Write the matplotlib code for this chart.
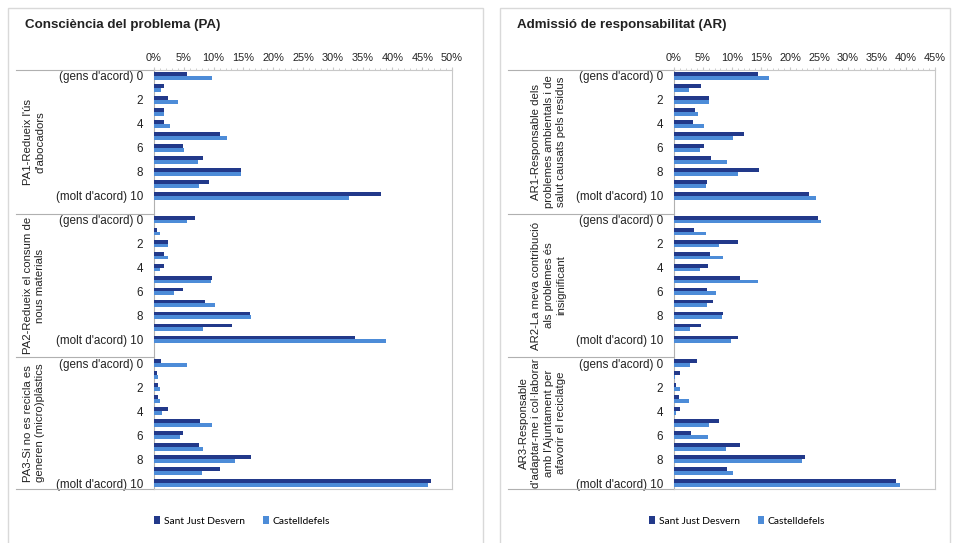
import matplotlib
matplotlib.use("Agg")
import matplotlib.pyplot as plt
import numpy as np
from matplotlib.transforms import blended_transform_factory
from matplotlib.patches import Rectangle, Patch

plt.rcParams['font.family'] = ['Liberation Sans', 'DejaVu Sans']

categories = ["(gens d'acord) 0", "", "2", "", "4", "", "6", "", "8", "", "(molt d'acord) 10"]
series_names = ["Sant Just Desvern", "Castelldefels"]

pa_groups = ["PA1-Redueix l'ús\nd'abocadors",
             "PA2-Redueix el consum de\nnous materials",
             "PA3-Si no es recicla es\ngeneren (micro)plàstics"]
ar_groups = ["AR1-Responsable dels\nproblemes ambientals i de\nsalut causats pels residus",
             "AR2-La meva contribució\nals problemes és\ninsignificant",
             "AR3-Responsable\nd'adaptar-me i col·laborar\namb l'Ajuntament per\nafavorir el reciclatge"]

pa1_sj = [5.6, 1.6, 2.4, 1.6, 1.6, 11.0, 4.8, 8.3, 14.6, 9.2, 38.1]
pa1_cd = [9.7, 1.2, 4.1, 1.6, 2.7, 12.2, 5.1, 7.3, 14.6, 7.6, 32.7]
pa2_sj = [6.8, 0.5, 2.4, 1.6, 1.6, 9.7, 4.9, 8.5, 16.1, 13.1, 33.7]
pa2_cd = [5.6, 1.0, 2.4, 2.4, 1.0, 9.5, 3.4, 10.2, 16.3, 8.3, 39.0]
pa3_sj = [1.2, 0.5, 0.7, 0.7, 2.4, 7.8, 4.9, 7.6, 16.3, 11.0, 46.4]
pa3_cd = [5.6, 0.7, 1.0, 1.0, 1.4, 9.7, 4.4, 8.3, 13.6, 8.1, 45.9]

ar1_sj = [14.5, 4.7, 6.0, 3.7, 3.2, 12.0, 5.2, 6.4, 14.7, 5.7, 23.3]
ar1_cd = [16.3, 2.6, 6.1, 4.2, 5.1, 10.2, 4.4, 9.2, 11.0, 5.5, 24.5]
ar2_sj = [24.8, 3.4, 11.0, 6.2, 5.9, 11.4, 5.7, 6.7, 8.4, 4.7, 11.0]
ar2_cd = [25.3, 5.5, 7.7, 8.4, 4.4, 14.4, 7.2, 5.7, 8.2, 2.7, 9.9]
ar3_sj = [4.0, 1.0, 0.3, 0.9, 1.0, 7.7, 2.9, 11.4, 22.6, 9.2, 38.3]
ar3_cd = [2.7, 0.2, 1.1, 2.5, 0.35, 6.0, 5.9, 9.0, 22.0, 10.2, 38.9]

pa_titles = "Consciència del problema (PA)"
ar_titles = "Admissió de responsabilitat (AR)"

DARK = "#22398a"
LIGHT = "#4d8cd8"
GRID = "#c8c8c8"

W, H = 955, 543
fig = plt.figure(figsize=(W / 100, H / 100), dpi=100)


def fx(px):
    return px / W


def fy(py):
    return 1 - py / H


def panel(box, ax_left, ax_right, xmax, title, groups, sj, cd, label_right, sep_left, legend_x):
    x0, y0, x1, y1 = box
    fig.patches.append(Rectangle((fx(x0), fy(y1)), fx(x1 - x0), fy(y0) - fy(y1),
                                 transform=fig.transFigure, fill=False,
                                 edgecolor="#d9d9d9", linewidth=1.0))
    fig.text(fx(x0 + 17), fy(25), title, fontsize=9.6, fontweight='bold',
             ha='left', va='center', color="#222222")

    top, bottom = 70, 489
    ax = fig.add_axes([fx(ax_left), fy(bottom), fx(ax_right - ax_left), fy(top) - fy(bottom)])
    n = len(categories)
    pos_all, labels_all = [], []
    for g in range(3):
        pos = np.arange(n) + g * (n + 1)
        ax.barh(pos - 0.16, sj[g], height=0.32, color=DARK, zorder=3)
        ax.barh(pos + 0.16, cd[g], height=0.32, color=LIGHT, zorder=3)
        pos_all += list(pos)
        labels_all += categories
    ax.set_ylim(3 * n + 2 - 0.5, -0.5)
    ax.set_xlim(0, xmax)
    ax.set_yticks(pos_all)
    ax.set_yticklabels(labels_all, fontsize=8.4, color="#222222")
    ax.tick_params(axis='y', length=0, pad=8)
    ax.xaxis.tick_top()
    xt = np.arange(0, xmax + 1, 5)
    ax.set_xticks(xt)
    ax.set_xticklabels([f"{v}%" for v in xt], fontsize=7.9, color="#222222")
    ax.set_xticks(np.arange(0, xmax + 0.01, 1), minor=True)
    ax.tick_params(axis='x', which='major', length=2, direction='out', color=GRID, pad=3)
    ax.tick_params(axis='x', which='minor', length=1.5, direction='out', color=GRID, top=True)
    for s in ax.spines.values():
        s.set_color(GRID)
        s.set_linewidth(0.8)
    ax.spines['left'].set_color("#b0b0b0")

    tr = blended_transform_factory(fig.transFigure, ax.transData)
    seps = [-0.5, n + 0.5, 2 * n + 1.5, 3 * n + 1.5]
    for s in seps:
        ax.plot([fx(sep_left), fx(ax_left)], [s, s], transform=tr, color="#b0b0b0",
                linewidth=0.8, clip_on=False)
    for g in range(3):
        yc = (seps[g] + seps[g + 1]) / 2
        ax.text(fx(label_right), yc, groups[g], transform=tr, rotation=90, ha='right',
                va='center', multialignment='center', fontsize=8.2, color="#222222",
                linespacing=1.3)

    handles = [Patch(facecolor=DARK), Patch(facecolor=LIGHT)]
    fig.legend(handles, series_names, loc='center', bbox_to_anchor=(fx(legend_x), fy(521)),
               ncol=2, frameon=False, handlelength=0.6, handleheight=0.7,
               handletextpad=0.3, columnspacing=1.8,
               prop={'family': ['Lato', 'DejaVu Sans'], 'size': 7.4})
    return ax


panel((8, 8, 483, 560), 154, 452, 50, pa_titles, pa_groups,
      [pa1_sj, pa2_sj, pa3_sj], [pa1_cd, pa2_cd, pa3_cd], 45, 16, 242)
panel((500, 8, 950, 560), 674, 935, 45, ar_titles, ar_groups,
      [ar1_sj, ar2_sj, ar3_sj], [ar1_cd, ar2_cd, ar3_cd], 566, 508, 737)

fig.savefig("out.png", dpi=100, facecolor="white")
